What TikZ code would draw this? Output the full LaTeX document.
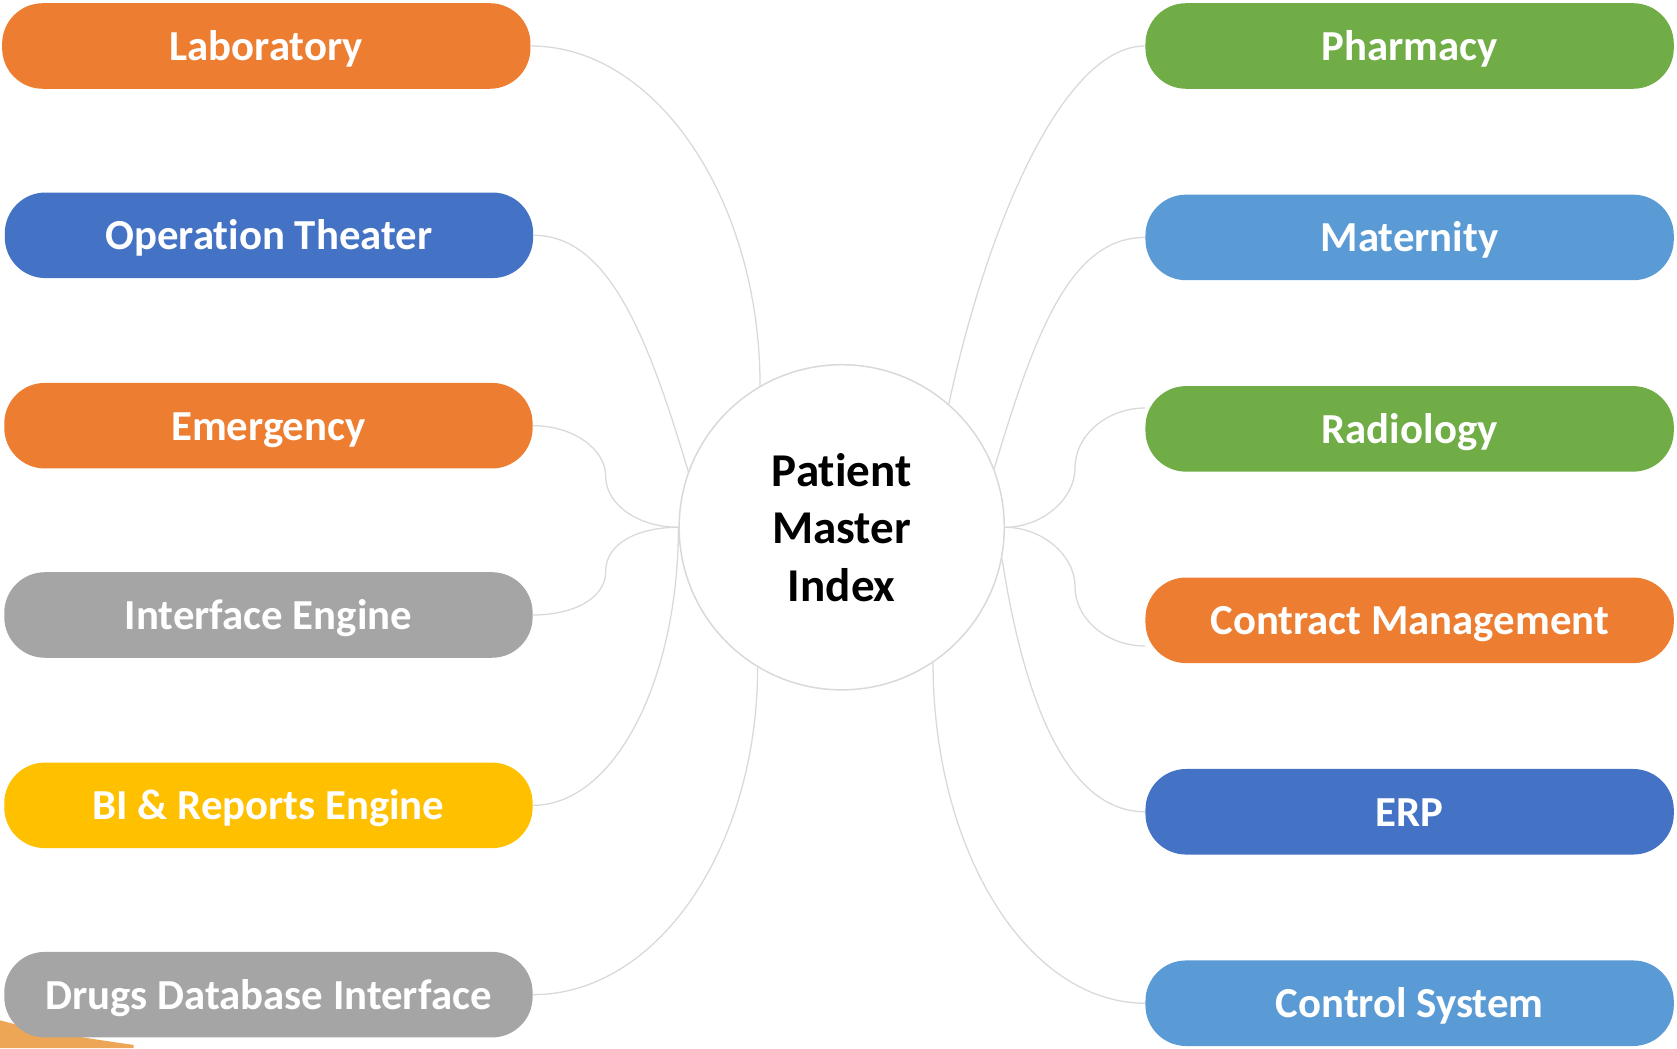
\documentclass[tikz,border=0pt]{standalone}
\usepackage{fontspec}
\setmainfont[Ligatures={NoCommon}]{Carlito}
\usetikzlibrary{backgrounds,calc}
\definecolor{cOrange}{HTML}{ED7D31}
\definecolor{cBlue}{HTML}{4472C4}
\definecolor{cGray}{HTML}{A5A5A5}
\definecolor{cYellow}{HTML}{FFC000}
\definecolor{cGreen}{HTML}{70AD47}
\definecolor{cLBlue}{HTML}{5B9BD5}
\definecolor{cLine}{HTML}{D9D9D9}
\definecolor{cSwoosh}{HTML}{EDA556}
\tikzset{
 pill/.style={fill=#1, rounded corners=19pt, minimum width=247pt, minimum height=40pt,
   inner sep=0pt, text=white, text height=13.5pt, text depth=0pt,
   font=\fontsize{20}{24}\selectfont\bfseries},
 link/.style={draw=cLine, line width=0.6pt},
 hub/.style={circle, draw=cLine, line width=0.7pt, fill=white, minimum size=152pt,
   inner sep=0pt, align=center, font=\fontsize{22}{26.9}\selectfont\bfseries}
}
\begin{document}
\begin{tikzpicture}[x=0.5pt,y=-0.5pt]
\useasboundingbox (0,0) rectangle (1568,980);
\node[hub] (pmi) at (787,493) {Patient\\Master\\Index};
% left
\node[pill=cOrange] (lab) at (249,43) {Laboratory};
\node[pill=cBlue] (ot) at (251.5,220) {Operation Theater};
\node[pill=cOrange] (em) at (251,398) {Emergency};
\node[pill=cGray] (ie) at (251,575) {Interface Engine};
\node[pill=cYellow] (bi) at (251,753) {BI \& Reports Engine};
\node[pill=cGray] (dd) at (251,930) {Drugs Database Interface};
% right
\node[pill=cGreen] (ph) at (1318,43) {Pharmacy};
\node[pill=cLBlue] (ma) at (1318,222) {Maternity};
\node[pill=cGreen] (rad) at (1318,401) {Radiology};
\node[pill=cOrange] (cm) at (1318,580) {Contract Management};
\node[pill=cBlue] (erp) at (1318,759) {ERP};
\node[pill=cLBlue] (cs) at (1318,938) {Control System};
% helper coordinates
\coordinate (radIn) at ($(rad.west)+(0,-19.5)$);
\coordinate (cmIn) at ($(cm.west)+(0,24)$);
\coordinate (radM) at ($(pmi.east)!0.5!(radIn)$);
\coordinate (cmM) at ($(pmi.east)!0.5!(cmIn)$);
\coordinate (emM) at ($(em.east)!0.5!(pmi.west)$);
\coordinate (ieM) at ($(ie.east)!0.5!(pmi.west)$);
\begin{scope}[on background layer]
\fill[cSwoosh] (0,954) .. controls (40,965) and (90,972) .. (125,977) -- (125,980) -- (0,980) -- cycle;
\draw[link] (pmi.120) .. controls +(0,-174) and +(117,0) .. (lab.east);
\draw[link] (pmi.160) .. controls +(-38,-127) and +(70,0) .. (ot.east);
\draw[link] (em.east) .. controls +(37,0) and +(0,-26) .. (emM) .. controls +(0,26) and +(-38,0) .. (pmi.west);
\draw[link] (ie.east) .. controls +(37,0) and +(0,26) .. (ieM) .. controls +(0,-26) and +(-38,0) .. (pmi.west);
\draw[link] (pmi.west) .. controls +(0,143) and +(76,0) .. (bi.east);
\draw[link] (pmi.-121) .. controls +(0,169) and +(116,0) .. (dd.east);
\draw[link] (pmi.49) .. controls +(36,-169) and +(-76,0) .. (ph.west);
\draw[link] (pmi.21) .. controls +(38,-127) and +(-70,0) .. (ma.west);
\draw[link] (pmi.east) .. controls +(34,0) and +(0,30) .. (radM) .. controls +(0,-30) and +(-36,0) .. (radIn);
\draw[link] (pmi.east) .. controls +(34,0) and +(0,-30) .. (cmM) .. controls +(0,30) and +(-36,0) .. (cmIn);
\draw[link] (pmi.-11) .. controls +(20,130) and +(-74,0) .. (erp.west);
\draw[link] (pmi.-56) .. controls +(0,176) and +(-110,0) .. (cs.west);
\end{scope}
\end{tikzpicture}
\end{document}
